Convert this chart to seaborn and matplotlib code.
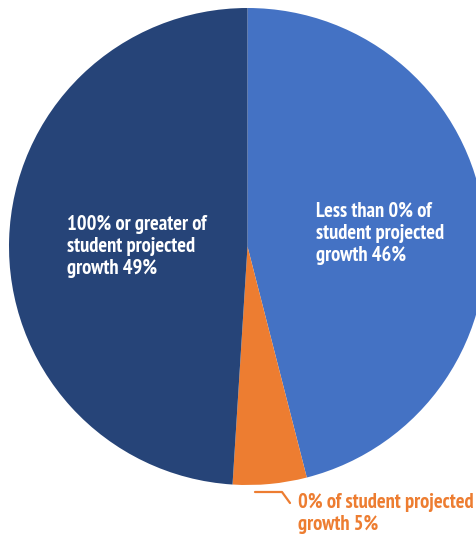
import matplotlib
matplotlib.use("Agg")
import matplotlib.pyplot as plt
from matplotlib.lines import Line2D
import seaborn as sns

# Share of students by projected growth band
categories = ["Less than 0% of student projected growth",
              "0% of student projected growth",
              "100% or greater of student projected growth"]
shares = [46, 5, 49]
slice_colors = ["#4472C4", "#ED7D31", "#264478"]

label_less = ["Less than 0% of", "student projected", "growth 46%"]
label_zero = ["0% of student projected", "growth 5%"]
label_full = ["100% or greater of", "student projected", "growth 49%"]

sns.set_theme(style="white")
plt.rcParams["font.family"] = ["PT Sans Narrow", "Fira Sans Condensed",
                               "Roboto Condensed", "Liberation Sans Narrow",
                               "DejaVu Sans"]

W, H = 477, 538
fig = plt.figure(figsize=(W / 100, H / 100), dpi=100)
fig.patch.set_facecolor("white")

# Square axes, the pie runs slightly past the right edge of the figure
ax = fig.add_axes([9 / W, 53 / H, 477 / W, 477 / H])
palette = sns.color_palette(slice_colors)
ax.pie(shares, colors=palette, startangle=90, counterclock=False,
       radius=1, wedgeprops=dict(linewidth=0))
ax.set_xlim(-1, 1)
ax.set_ylim(-1, 1)
ax.set_aspect("equal")
ax.axis("off")


def put_lines(lines, x_px, first_baseline_px, color, pitch=22, size=14.8):
    for i, line in enumerate(lines):
        fig.text(x_px / W, 1 - (first_baseline_px + i * pitch) / H, line,
                 color=color, fontsize=size, fontweight="bold",
                 ha="left", va="baseline")


put_lines(label_less, 316, 217, "white")
put_lines(label_full, 67, 230, "white")
put_lines(label_zero, 298, 508, slice_colors[1])

# Leader from the small slice to its label
xs = [255, 282, 290]
ys = [492, 492, 503]
fig.add_artist(Line2D([x / W for x in xs], [1 - y / H for y in ys],
                      transform=fig.transFigure, color=slice_colors[1],
                      linewidth=1.6))

fig.savefig("out.png", dpi=100, facecolor="white")
